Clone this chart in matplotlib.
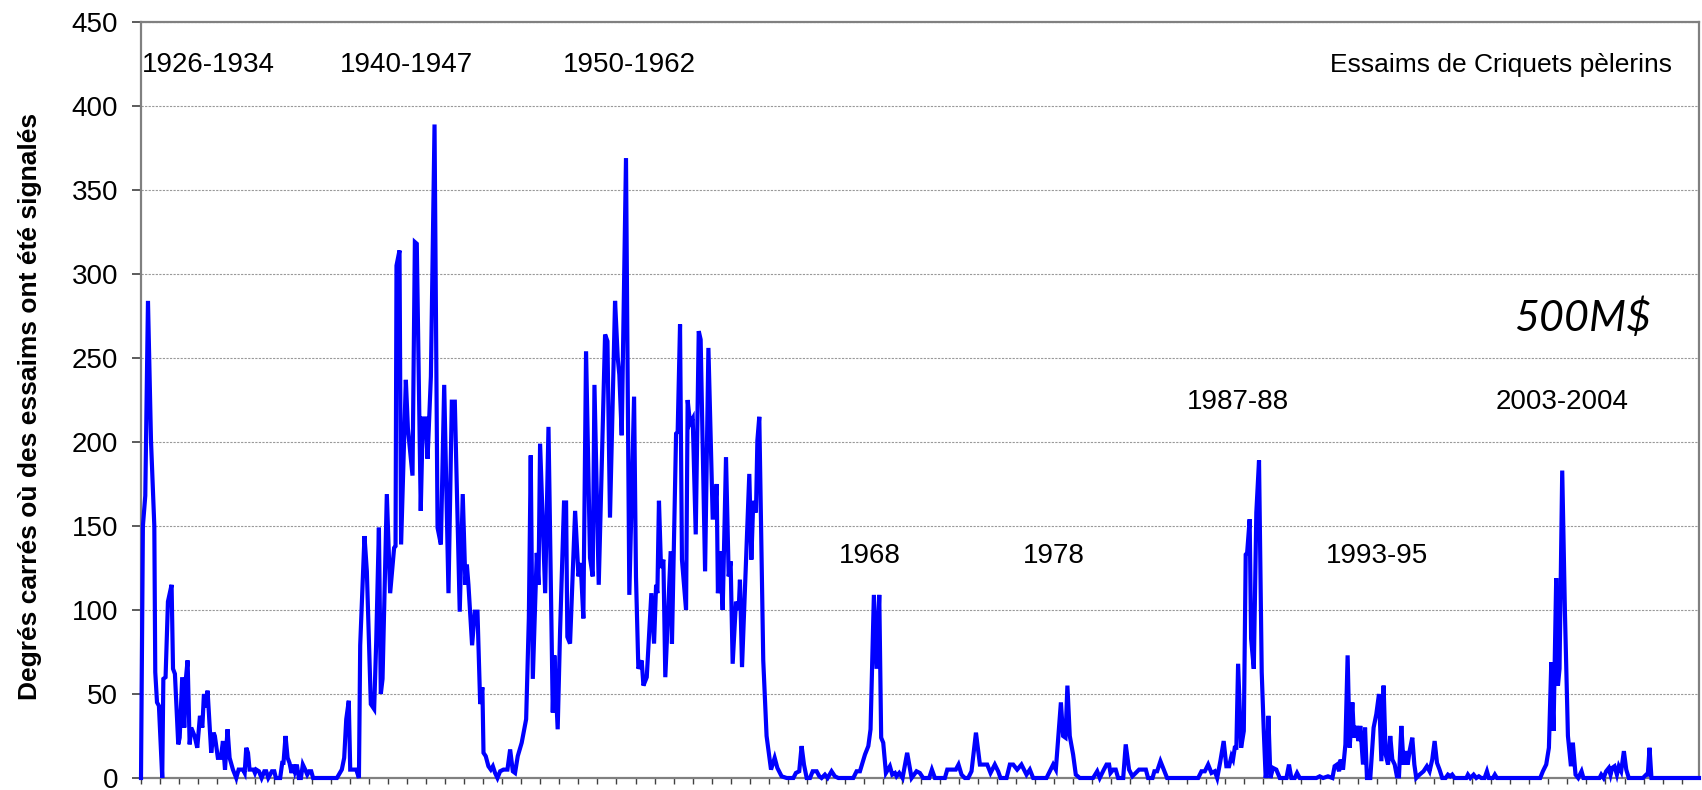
import matplotlib
matplotlib.use("Agg")
import matplotlib.pyplot as plt
import numpy as np

# mois depuis le debut de la serie / degres carres avec essaims
mois_1926 = [0, 1.2, 2.7, 4.4, 6.3, 8.4, 9.0, 10.1, 11.3, 13.4, 14.1, 15.5, 17.0, 19.3, 20.2, 21.4,
             23.5, 24.4, 26.0, 27.3, 28.4, 29.4, 30.7, 31.7, 33.8, 35.5, 37.2, 38.7, 39.7, 40.8,
             42.0, 44.3, 45.8, 46.6, 48.5, 50.4, 51.7, 53.0, 54.6, 55.9, 58.0, 60.1, 61.6, 64.3,
             65.4, 66.4, 67.5, 68.5, 71.0, 71.9, 72.7, 74.4, 76.1, 77.8, 79.0, 80.3, 82.6, 84.1,
             85.1, 87.8, 89.1, 89.9, 91.2, 92.5, 93.7, 95.0, 96.2, 97.1, 98.3, 99.6, 100.9, 102.1,
             103.6, 104.9, 106.1, 107.4, 108.6]
val_1926 = [0, 150, 168, 284, 201, 150, 63, 45, 43, 0, 59, 60, 105, 115, 65, 62,
            20, 24, 60, 30, 60, 70, 20, 30, 25, 18, 37, 30, 50, 42,
            52, 15, 27, 25, 12, 12, 22, 5, 29, 12, 5, 0, 5, 5,
            3, 18, 15, 5, 5, 3, 5, 4, 0, 4, 4, 0, 4, 4,
            0, 0, 9, 9, 25, 12, 9, 3, 8, 4, 8, 0, 0, 8,
            5, 2, 4, 4, 0]

mois_1940 = [123.6, 126.7, 128.2, 129.5, 131.1, 132.0, 135.8, 137.5, 138.3, 141.0, 142.5, 145.0,
             147.1, 148.4, 150.1, 151.3, 152.4, 155.1, 157.2, 159.7, 160.6, 161.2, 163.1, 164.1,
             167.1, 168.4, 171.3, 172.8, 174.0, 176.5, 177.8, 179.5, 180.8, 182.9, 185.2, 187.1,
             189.2, 191.3, 194.0, 196.1, 198.0, 201.1, 203.0, 204.7, 205.6, 206.6, 208.9, 210.6,
             212.3, 214.0, 215.4, 216.1, 217.5, 219.2, 220.7, 222.0, 223.4, 224.9]
val_1940 = [0, 5, 12, 35, 46, 5, 5, 0, 79, 144, 123, 44,
            41, 81, 149, 50, 59, 169, 110, 137, 138, 305, 314, 139,
            237, 208, 180, 319, 318, 159, 214, 214, 190, 239, 389, 149,
            139, 234, 110, 224, 224, 99, 169, 115, 127, 115, 79, 99,
            99, 44, 54, 15, 13, 7, 5, 7, 3, 0]

mois_1950 = [226.6, 228.7, 231.2, 232.9, 234.6, 236.0, 237.7, 240.2, 243.0, 244.7, 245.9, 247.2,
             249.7, 250.8, 251.8, 255.0, 257.1, 259.8, 260.8, 262.9, 264.4, 266.9, 268.2, 269.0,
             270.7, 273.9, 276.0, 277.4, 279.1, 280.8, 283.3, 285.0, 286.1, 288.8, 292.8, 294.3,
             295.9, 299.1, 300.8, 301.8, 303.3, 306.0, 308.1, 311.1, 312.3, 313.8, 315.9, 317.0,
             319.1, 322.0, 323.7, 325.0, 325.8, 326.8, 328.1, 329.6, 330.8, 334.2, 335.0, 337.6,
             338.6, 340.1, 341.3, 343.9, 344.9, 346.4, 348.1, 350.0, 351.9, 353.1, 355.9, 358.0,
             360.7, 362.0, 363.2, 364.0, 365.3, 367.0, 369.1, 370.8, 372.0, 373.3, 375.4, 377.1,
             377.9, 379.2, 381.7, 383.8, 385.1, 386.3, 388.0, 388.9, 390.1, 392.6, 394.7, 397.5,
             399.8, 401.5, 404.2, 407.4]
val_1950 = [4, 5, 5, 17, 4, 3, 13, 21, 35, 95, 192, 59,
            134, 115, 199, 110, 209, 39, 73, 29, 87, 164, 164, 84,
            80, 159, 120, 128, 95, 254, 131, 120, 234, 115, 264, 260,
            155, 284, 250, 240, 204, 369, 109, 227, 120, 65, 70, 55,
            60, 110, 80, 115, 110, 165, 125, 130, 60, 135, 80, 205,
            206, 270, 130, 100, 225, 211, 214, 145, 266, 261, 123, 256,
            155, 155, 175, 110, 135, 100, 191, 120, 129, 68, 105, 100,
            118, 66, 129, 181, 130, 165, 158, 201, 215, 70, 25, 5,
            12, 6, 1, 0]

mois_1968 = [411.6, 413.2, 415.3, 416.8, 418.3, 420.0, 422.1, 423.8, 426.3, 428.0, 429.4, 431.5,
             433.2, 435.7, 437.8, 440.0, 449.4, 451.5, 453.6, 456.8, 458.9, 460.3, 462.4, 464.1,
             465.8, 467.0, 468.3, 470.0, 472.5, 474.0, 475.7, 476.7, 478.4, 480.5, 483.4, 486.2,
             489.3, 491.4, 493.5, 497.3, 499.0, 500.9, 507.2, 508.7, 514.1, 515.8, 517.7, 519.8,
             521.9, 524.0, 526.8, 529.3, 531.4, 533.9, 536.0, 538.7, 540.8, 542.3, 546.1, 548.2,
             550.3, 552.8, 555.5, 558.7, 560.8, 562.9, 571.3, 573.4, 575.5, 577.2, 580.4, 581.8,
             583.3, 584.5, 586.0, 588.1, 589.8, 592.3]
val_1968 = [0, 3, 4, 19, 8, 0, 0, 4, 4, 1, 0, 2,
            0, 4, 1, 0, 0, 4, 4, 14, 19, 29, 109, 65,
            109, 24, 21, 3, 7, 2, 3, 1, 3, 0, 15, 0,
            4, 3, 0, 0, 5, 0, 0, 5, 5, 8, 2, 0,
            0, 4, 27, 8, 8, 8, 3, 8, 4, 0, 0, 8,
            8, 5, 8, 2, 5, 0, 0, 4, 8, 5, 45, 25,
            24, 55, 25, 14, 2, 0]

mois_1987 = [600.7, 603.3, 604.9, 607.5, 609.2, 610.8, 611.7, 613.4, 615.0, 616.5, 619.7, 621.3,
             623.4, 625.5, 627.6, 629.7, 632.3, 634.0, 635.4, 638.2, 639.4, 641.1, 643.2, 644.9,
             647.4, 667.0, 669.1, 671.2, 673.3, 675.4, 677.5, 679.0, 681.0, 683.1, 684.8, 686.5,
             688.0, 689.0, 690.1, 691.1, 692.2, 694.1, 695.8, 697.0, 697.9, 699.5, 700.4, 702.1,
             703.7, 705.4, 707.1, 708.4, 709.6, 710.5, 711.3, 712.6, 714.2, 716.3, 718.5, 722.7,
             724.3, 725.8, 727.9, 729.4, 731.1, 741.6, 743.7, 745.8, 748.9, 751.7]
val_1987 = [0, 4, 0, 5, 8, 8, 3, 5, 5, 0, 0, 20,
            5, 1, 3, 5, 5, 5, 0, 0, 4, 4, 10, 6,
            0, 0, 4, 4, 8, 3, 4, 0, 10, 22, 7, 7,
            13, 11, 18, 18, 68, 18, 28, 133, 134, 154, 83, 65,
            158, 189, 63, 28, 0, 7, 37, 0, 6, 5, 0, 0,
            8, 0, 0, 3, 0, 0, 1, 0, 1, 0]

mois_1993 = [753.1, 754.6, 755.9, 756.9, 758.4, 759.9, 761.3, 762.6, 764.3, 765.3, 766.8, 768.1,
             769.3, 771.0, 772.3, 773.5, 775.6, 777.7, 779.4, 781.1, 782.6, 784.0, 785.3, 786.8,
             788.2, 789.5, 791.0, 792.4, 793.7, 795.2, 796.6, 797.9, 799.2, 800.4, 802.1, 803.4,
             804.6, 806.7, 809.2, 811.3, 813.0, 814.7, 816.2, 817.7, 819.3, 821.0, 823.1, 824.6,
             826.1, 827.3, 828.8, 836.2, 837.2, 838.7, 840.8, 842.5, 844.1, 845.6, 847.7, 849.2,
             850.4, 853.0, 854.2, 855.5]
val_1993 = [7, 8, 4, 11, 5, 20, 73, 18, 45, 24, 31, 22,
            31, 8, 30, 0, 0, 30, 38, 50, 10, 55, 14, 8,
            25, 11, 8, 1, 1, 31, 8, 16, 8, 16, 24, 8,
            0, 2, 4, 7, 4, 11, 22, 9, 5, 0, 0, 2,
            1, 2, 0, 0, 2, 0, 2, 0, 1, 0, 0, 4,
            0, 0, 2, 0]

mois_2003 = [882.8, 884.5, 886.6, 888.3, 889.8, 891.2, 892.9, 894.0, 895.0, 896.7, 898.4, 900.3,
             902.2, 903.4, 905.1, 906.8, 908.9, 910.1, 920.2, 921.3, 922.8, 924.4, 926.1, 927.2,
             928.2, 929.7, 931.2, 932.4, 933.9, 935.6, 937.1, 938.7, 947.6, 949.7, 950.7, 951.8,
             953.0, 983.0]
val_2003 = [0, 4, 8, 18, 69, 28, 119, 55, 65, 183, 99, 25,
            7, 21, 2, 0, 4, 0, 0, 2, 0, 4, 6, 2,
            6, 7, 2, 7, 4, 16, 5, 0, 0, 2, 2, 18,
            0, 0]

episodes = ["1926-1934", "1940-1947", "1950-1962", "1968", "1978",
            "1987-88", "1993-95", "2003-2004"]
ep_mois = [0.5, 167.6, 308, 460, 576, 692, 780, 896.5]
ep_val = [420, 420, 420, 128, 128, 219.5, 128, 219.5]

mois = np.concatenate([mois_1926, mois_1940, mois_1950, mois_1968,
                       mois_1987, mois_1993, mois_2003])
valeurs = np.concatenate([val_1926, val_1940, val_1950, val_1968,
                          val_1987, val_1993, val_2003])

plt.rcParams['font.family'] = ['Liberation Sans', 'DejaVu Sans']

fig = plt.figure(figsize=(17.02, 7.9), dpi=100)
ax = fig.add_axes([141/1702, 12/790, 1558/1702, 756/790])

ax.plot(mois, valeurs, color='#0000FF', lw=3.0, clip_on=False, zorder=3,
        solid_joinstyle='miter')

ax.set_xlim(0, 983)
ax.set_ylim(0, 450)
ax.set_xticks(np.arange(0, 983, 12))
ax.set_xticklabels([])
ax.set_yticks(np.arange(0, 451, 50))
ax.tick_params(axis='y', labelsize=20, length=6.5, width=1.2, pad=10, color='#404040')
ax.tick_params(axis='x', length=4.5, width=1.0, color='#404040')

ax.yaxis.grid(True, linestyle=(0, (2, 1.2)), color='#999999', lw=0.8)
ax.set_axisbelow(True)
for s in ax.spines.values():
    s.set_color('#808080')
    s.set_linewidth(1.6)

for lab, mx, vy in zip(episodes, ep_mois, ep_val):
    ha = 'left' if lab == "1926-1934" else 'center'
    ax.text(mx, vy, lab, ha=ha, va='baseline', fontsize=20)

ax.text(966, 420, "Essaims de Criquets pèlerins", ha='right', va='baseline', fontsize=19)
ax.text(953, 266, "500M$", ha='right', va='baseline', fontsize=31,
        style='italic', family=['Lato', 'DejaVu Sans'])

fig.text(30/1702, 1 - 406/790, "Degrés carrés où des essaims ont été signalés",
         rotation=90, ha='center', va='center', fontsize=19, fontweight='bold')

fig.savefig("out.png", dpi=100)
